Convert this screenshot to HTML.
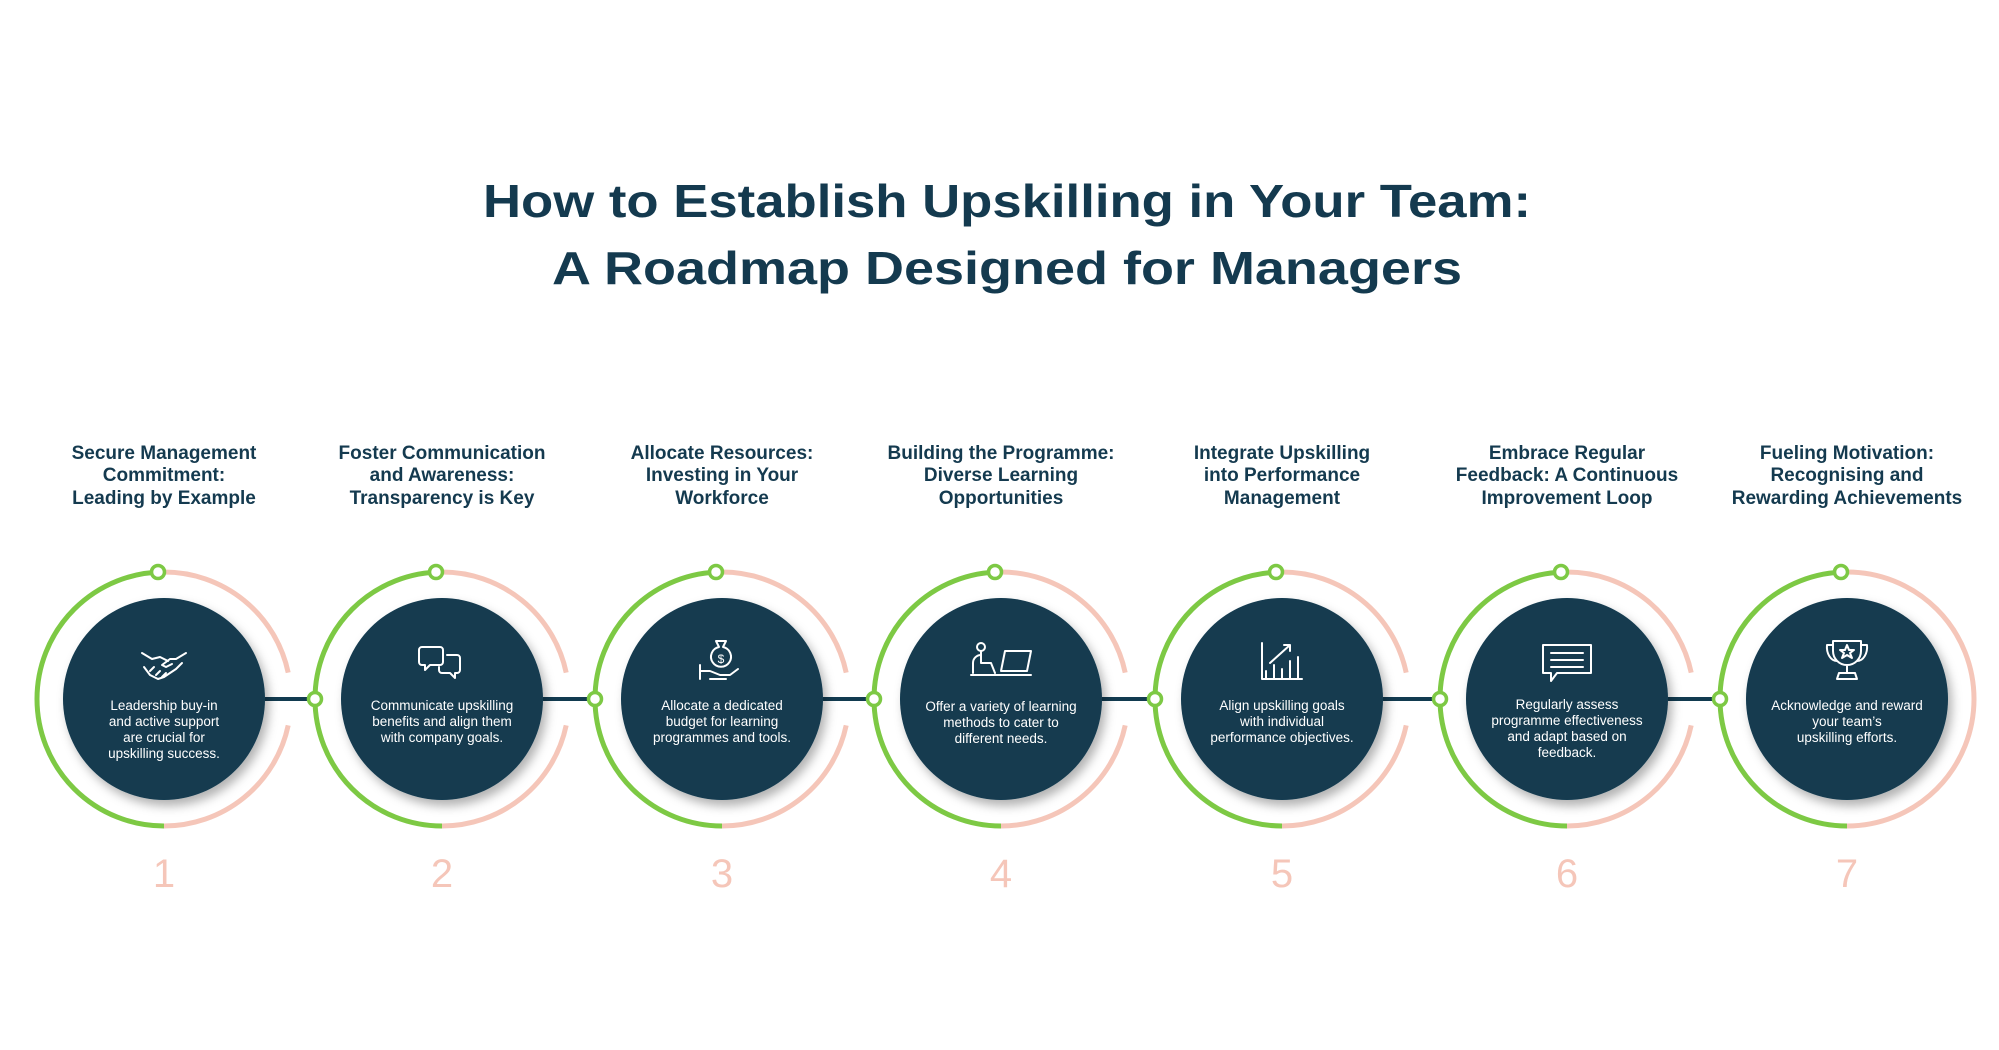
<!DOCTYPE html>
<html><head><meta charset="utf-8"><style>
html,body{margin:0;padding:0;background:#fff;}
svg{display:block;}
text{font-family:"Liberation Sans",sans-serif;}
.h{font-weight:bold;font-size:19px;fill:#143a4f;text-anchor:middle;}
.b{font-size:13.5px;fill:#ffffff;text-anchor:middle;}
.n{font-size:40px;fill:#f5c6b9;text-anchor:middle;}
.g{fill:none;stroke:#7dc944;stroke-width:5;}
.p{fill:none;stroke:#f5c6b9;stroke-width:5;}
.nd{fill:#fff;stroke:#7dc944;stroke-width:3.5;}
.ic{fill:none;stroke:#fff;stroke-width:2;stroke-linejoin:round;stroke-linecap:round;}
</style></head><body>
<svg width="1999" height="1050" viewBox="0 0 1999 1050" xmlns="http://www.w3.org/2000/svg">
<defs>
<filter id="sh" x="-30%" y="-30%" width="160%" height="160%"><feDropShadow dx="4" dy="6" stdDeviation="5" flood-color="#000" flood-opacity="0.3"/></filter>
<g id="ring">
<path class="p" d="M0,-127 A127,127 0 0 1 124.2,-26.4"/>
<path class="p" d="M124.2,26.4 A127,127 0 0 1 0,127"/>
<path class="g" d="M0,127 A127,127 0 0 1 0,-127"/>
<circle r="101" fill="#123b50" filter="url(#sh)"/>
<circle class="nd" cx="-6" cy="-127" r="6.5"/>
</g>
</defs>
<text x="1007" y="217" font-weight="bold" font-size="46" fill="#143a4f" text-anchor="middle" textLength="1048" lengthAdjust="spacingAndGlyphs">How to Establish Upskilling in Your Team:</text>
<text x="1007" y="284" font-weight="bold" font-size="46" fill="#143a4f" text-anchor="middle" textLength="910" lengthAdjust="spacingAndGlyphs">A Roadmap Designed for Managers</text>

<g stroke="#123b50" stroke-width="4">
<line x1="265" y1="699" x2="315" y2="699"/>
<line x1="543" y1="699" x2="595" y2="699"/>
<line x1="823" y1="699" x2="874" y2="699"/>
<line x1="1102" y1="699" x2="1155" y2="699"/>
<line x1="1383" y1="699" x2="1440" y2="699"/>
<line x1="1668" y1="699" x2="1720" y2="699"/>
</g>

<g transform="translate(164,699)"><use href="#ring"/>
<g class="ic" transform="translate(0,-36)"><path d="M-22,-10 l10,6 l8,-2 l8,4 M22,-10 l-10,6 l-6,0 l-8,6 l4,2 l6,-3 M-20,4 l6,8 l8,4 l6,-2 l12,-8 l6,-6 M-14,8 l4,-4 M-8,12 l4,-4 M-2,14 l4,-4"/></g>
</g>
<text class="h"><tspan x="164" y="459">Secure Management</tspan><tspan x="164" y="481">Commitment:</tspan><tspan x="164" y="504">Leading by Example</tspan></text>
<text class="b"><tspan x="164" y="710">Leadership buy-in</tspan><tspan x="164" y="726">and active support</tspan><tspan x="164" y="742">are crucial for</tspan><tspan x="164" y="758">upskilling success.</tspan></text>
<text class="n" x="164" y="887">1</text>

<g transform="translate(442,699)"><use href="#ring"/><circle class="nd" cx="-127" cy="0" r="6.5"/>
<g class="ic" transform="translate(0,-36)"><path d="M-20,-16 h18 a3,3 0 0 1 3,3 v12 a3,3 0 0 1 -3,3 h-10 l-5,5 v-5 h-3 a3,3 0 0 1 -3,-3 v-12 a3,3 0 0 1 3,-3z M5,-8 h10 a3,3 0 0 1 3,3 v12 a3,3 0 0 1 -3,3 h-2 v5 l-5,-5 h-8 a3,3 0 0 1 -3,-3 v-3"/></g>
</g>
<text class="h"><tspan x="442" y="459">Foster Communication</tspan><tspan x="442" y="481">and Awareness:</tspan><tspan x="442" y="504">Transparency is Key</tspan></text>
<text class="b"><tspan x="442" y="710">Communicate upskilling</tspan><tspan x="442" y="726">benefits and align them</tspan><tspan x="442" y="742">with company goals.</tspan></text>
<text class="n" x="442" y="887">2</text>

<g transform="translate(722,699)"><use href="#ring"/><circle class="nd" cx="-127" cy="0" r="6.5"/>
<g class="ic" transform="translate(0,-38)"><path d="M-6,-20 h10 l-3,6 a10,10 0 1 1 -4,0z M-22,10 h10 l10,4 h10 l8,-6 M-12,18 h16 M-22,4 v14"/><text x="-1" y="2" font-size="12" fill="#fff" stroke="none" text-anchor="middle">$</text></g>
</g>
<text class="h"><tspan x="722" y="459">Allocate Resources:</tspan><tspan x="722" y="481">Investing in Your</tspan><tspan x="722" y="504">Workforce</tspan></text>
<text class="b"><tspan x="722" y="710">Allocate a dedicated</tspan><tspan x="722" y="726">budget for learning</tspan><tspan x="722" y="742">programmes and tools.</tspan></text>
<text class="n" x="722" y="887">3</text>

<g transform="translate(1001,699)"><use href="#ring"/><circle class="nd" cx="-127" cy="0" r="6.5"/>
<g class="ic" transform="translate(0,-36)"><circle cx="-20" cy="-16" r="4"/><path d="M-20,-12 v12 h10 l4,10 M-28,10 v-10 a8,8 0 0 1 8,-8 M-30,12 h60 M4,-12 h26 l-4,20 h-26z"/></g>
</g>
<text class="h"><tspan x="1001" y="459">Building the Programme:</tspan><tspan x="1001" y="481">Diverse Learning</tspan><tspan x="1001" y="504">Opportunities</tspan></text>
<text class="b"><tspan x="1001" y="711">Offer a variety of learning</tspan><tspan x="1001" y="727">methods to cater to</tspan><tspan x="1001" y="743">different needs.</tspan></text>
<text class="n" x="1001" y="887">4</text>

<g transform="translate(1282,699)"><use href="#ring"/><circle class="nd" cx="-127" cy="0" r="6.5"/>
<g class="ic" transform="translate(0,-36)"><path d="M-20,-20 v36 h40 M-16,16 v-8 M-8,16 v-14 M0,16 v-10 M8,16 v-18 M16,16 v-22 M-12,0 l20,-18 M2,-18 h6 v6"/></g>
</g>
<text class="h"><tspan x="1282" y="459">Integrate Upskilling</tspan><tspan x="1282" y="481">into Performance</tspan><tspan x="1282" y="504">Management</tspan></text>
<text class="b"><tspan x="1282" y="710">Align upskilling goals</tspan><tspan x="1282" y="726">with individual</tspan><tspan x="1282" y="742">performance objectives.</tspan></text>
<text class="n" x="1282" y="887">5</text>

<g transform="translate(1567,699)"><use href="#ring"/><circle class="nd" cx="-127" cy="0" r="6.5"/>
<g class="ic" transform="translate(0,-38)"><path d="M-24,-16 h48 v28 h-34 l-6,8 v-8 h-8z M-16,-8 h32 M-16,-1 h32 M-16,6 h32"/></g>
</g>
<text class="h"><tspan x="1567" y="459">Embrace Regular</tspan><tspan x="1567" y="481">Feedback: A Continuous</tspan><tspan x="1567" y="504">Improvement Loop</tspan></text>
<text class="b"><tspan x="1567" y="709">Regularly assess</tspan><tspan x="1567" y="725">programme effectiveness</tspan><tspan x="1567" y="741">and adapt based on</tspan><tspan x="1567" y="757">feedback.</tspan></text>
<text class="n" x="1567" y="887">6</text>

<g transform="translate(1847,699)">
<path class="p" d="M0,-127 A127,127 0 0 1 0,127"/>
<path class="g" d="M0,127 A127,127 0 0 1 0,-127"/>
<circle r="101" fill="#123b50" filter="url(#sh)"/>
<circle class="nd" cx="-6" cy="-127" r="6.5"/>
<circle class="nd" cx="-127" cy="0" r="6.5"/>
<g class="ic" transform="translate(0,-40)"><path d="M-14,-18 h28 v10 a14,14 0 0 1 -28,0z M-14,-14 h-6 a10,14 0 0 0 10,16 M14,-14 h6 a10,14 0 0 1 -10,16 M0,6 v8 M-8,14 h16 l2,6 h-20z M0,-14 l2,5 h5 l-4,3 l2,5 l-5,-3 l-5,3 l2,-5 l-4,-3 h5z"/></g>
</g>
<text class="h"><tspan x="1847" y="459">Fueling Motivation:</tspan><tspan x="1847" y="481">Recognising and</tspan><tspan x="1847" y="504">Rewarding Achievements</tspan></text>
<text class="b"><tspan x="1847" y="710">Acknowledge and reward</tspan><tspan x="1847" y="726">your team’s</tspan><tspan x="1847" y="742">upskilling efforts.</tspan></text>
<text class="n" x="1847" y="887">7</text>
</svg>
</body></html>
